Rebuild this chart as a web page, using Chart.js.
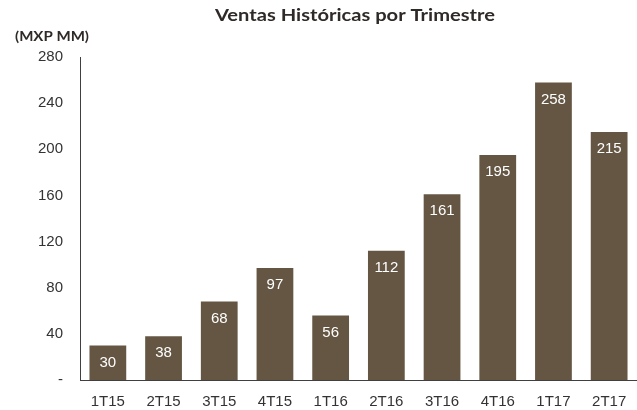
<!DOCTYPE html>
<html>
<head>
<meta charset="utf-8">
<script src="https://cdn.jsdelivr.net/npm/chart.js@4"></script>
<style>
html,body{margin:0;padding:0;background:#fff;}
#wrap{width:637px;height:410px;position:relative;}
</style>
</head>
<body>
<div id="wrap"><canvas id="c" width="637" height="410"></canvas></div>
<script>
const categories = ['1T15','2T15','3T15','4T15','1T16','2T16','3T16','4T16','1T17','2T17'];
const ventas = [30, 38, 68, 97, 56, 112, 161, 195, 258, 215];
const yTicks = [0, 40, 80, 120, 160, 200, 240, 280];
const titleText = 'Ventas Históricas por Trimestre';
const unitText = '(MXP MM)';

function drawFitted(ctx, text, font, x, y, targetW) {
  ctx.save();
  ctx.font = font;
  const w = ctx.measureText(text).width;
  ctx.translate(x, y);
  ctx.scale(targetW / w, 1);
  ctx.textAlign = 'left';
  ctx.textBaseline = 'middle';
  ctx.fillText(text, 0, 0);
  ctx.restore();
}

const labelsPlugin = {
  id: 'labelsPlugin',
  afterDatasetsDraw(chart) {
    const ctx = chart.ctx;
    const meta = chart.getDatasetMeta(0);
    ctx.save();
    ctx.fillStyle = '#ffffff';
    ctx.font = '15px "Liberation Sans", Arial, sans-serif';
    ctx.textAlign = 'center';
    ctx.textBaseline = 'middle';
    meta.data.forEach((bar, i) => {
      ctx.fillText(String(ventas[i]), bar.x, bar.y + 17);
    });
    ctx.restore();
  },
  afterDraw(chart) {
    const ctx = chart.ctx;
    ctx.save();
    ctx.fillStyle = '#2f2a27';
    drawFitted(ctx, titleText, 'bold 17px "Lato", sans-serif', 215, 16, 280);
    drawFitted(ctx, unitText, 'bold 14px "Lato", sans-serif', 15, 36.5, 74);
    ctx.restore();
  }
};

new Chart(document.getElementById('c'), {
  type: 'bar',
  data: {
    labels: categories,
    datasets: [{
      data: ventas,
      backgroundColor: '#645643',
      borderWidth: 0,
      categoryPercentage: 1,
      barPercentage: 0.66
    }]
  },
  options: {
    responsive: false,
    animation: false,
    events: [],
    layout: { padding: { top: 57, right: 0, left: 0, bottom: 0 } },
    plugins: { legend: { display: false }, tooltip: { enabled: false }, title: { display: false } },
    scales: {
      x: {
        grid: { display: false },
        border: { display: true, color: '#404040', width: 1 },
        ticks: { color: '#333333', font: { family: '"Liberation Sans", Arial, sans-serif', size: 15 }, padding: 5, maxRotation: 0 },
        afterFit(s) { s.height = 30; }
      },
      y: {
        min: 0, max: 280,
        afterBuildTicks(s) { s.ticks = yTicks.map(v => ({ value: v })); },
        grid: { display: false },
        border: { display: true, color: '#404040', width: 1 },
        ticks: {
          color: '#333333',
          font: { family: '"Liberation Sans", Arial, sans-serif', size: 15 },
          padding: 9,
          callback: v => v === 0 ? '-' : String(v)
        },
        afterFit(s) { s.width = 80; }
      }
    }
  },
  plugins: [labelsPlugin]
});
</script>
</body>
</html>
